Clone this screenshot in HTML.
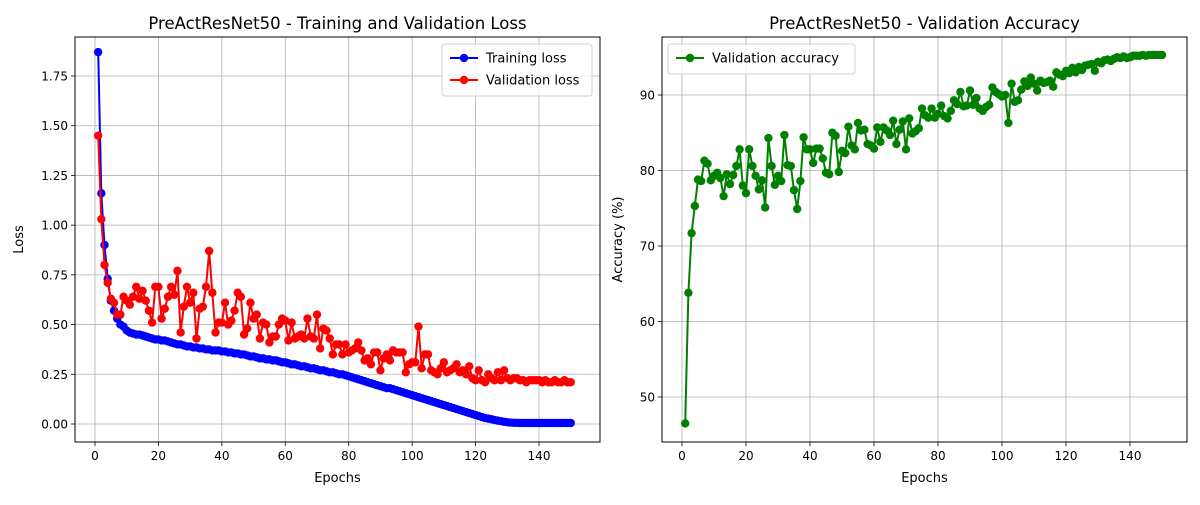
<!DOCTYPE html>
<html><head><meta charset="utf-8"><style>
body{margin:0;background:#fff;font-family:"Liberation Sans","DejaVu Sans",sans-serif}
svg text{font-family:"DejaVu Sans","Liberation Sans",sans-serif;fill:#000}
</style></head><body>
<svg id="c" width="1200" height="500"></svg>
<script>
const epochs=[];for(let i=1;i<=150;i++)epochs.push(i);
const trainLoss=[1.87,1.16,0.90,0.73,0.62,0.57,0.53,0.50,0.49,0.47,
0.46,0.455,0.45,0.45,0.445,0.44,0.435,0.43,0.425,0.425,
0.42,0.42,0.415,0.41,0.405,0.40,0.40,0.395,0.39,0.39,
0.385,0.385,0.38,0.38,0.375,0.375,0.37,0.37,0.37,0.365,
0.365,0.36,0.36,0.355,0.355,0.35,0.35,0.345,0.34,0.34,
0.335,0.33,0.33,0.325,0.325,0.32,0.32,0.315,0.31,0.31,
0.305,0.30,0.30,0.295,0.29,0.29,0.285,0.28,0.28,0.275,
0.27,0.27,0.265,0.26,0.26,0.255,0.25,0.25,0.245,0.24,
0.235,0.23,0.225,0.22,0.215,0.21,0.205,0.20,0.195,0.19,
0.185,0.18,0.18,0.175,0.17,0.165,0.16,0.155,0.15,0.145,
0.14,0.135,0.13,0.125,0.12,0.115,0.11,0.105,0.10,0.095,
0.09,0.085,0.08,0.075,0.07,0.065,0.06,0.055,0.05,0.045,
0.04,0.035,0.03,0.027,0.024,0.02,0.017,0.014,0.011,0.009,
0.007,0.006,0.006,0.005,0.005,0.005,0.005,0.005,0.005,0.005,
0.005,0.005,0.005,0.005,0.005,0.005,0.005,0.005,0.005,0.005];
const valLoss=[1.45,1.03,0.80,0.71,0.63,0.61,0.55,0.55,0.64,0.62,
0.60,0.64,0.69,0.63,0.67,0.62,0.57,0.51,0.69,0.69,
0.53,0.58,0.64,0.69,0.65,0.77,0.46,0.59,0.69,0.61,
0.66,0.43,0.58,0.59,0.69,0.87,0.66,0.46,0.51,0.51,
0.61,0.50,0.52,0.57,0.66,0.64,0.45,0.48,0.61,0.53,
0.55,0.43,0.51,0.50,0.41,0.44,0.44,0.50,0.53,0.52,
0.42,0.51,0.43,0.44,0.45,0.43,0.53,0.44,0.43,0.55,
0.38,0.48,0.47,0.43,0.35,0.40,0.40,0.35,0.40,0.36,
0.37,0.38,0.41,0.37,0.32,0.33,0.30,0.36,0.36,0.27,
0.33,0.35,0.32,0.37,0.36,0.36,0.36,0.26,0.30,0.31,
0.31,0.49,0.28,0.35,0.35,0.27,0.26,0.25,0.28,0.31,
0.26,0.27,0.28,0.30,0.26,0.27,0.25,0.29,0.23,0.22,
0.27,0.22,0.21,0.25,0.23,0.22,0.26,0.22,0.27,0.23,
0.22,0.23,0.23,0.22,0.22,0.21,0.22,0.22,0.22,0.22,
0.21,0.22,0.21,0.21,0.22,0.21,0.21,0.22,0.21,0.21];
const valAcc=[46.5,63.8,71.7,75.3,78.8,78.6,81.3,80.9,78.7,79.3,
79.7,79.0,76.6,79.5,78.2,79.4,80.6,82.8,78.0,77.0,
82.8,80.6,79.3,77.5,78.7,75.1,84.3,80.6,78.1,79.3,
78.6,84.7,80.7,80.6,77.4,74.9,78.6,84.4,82.8,82.8,
81.0,82.9,82.9,81.6,79.7,79.5,85.0,84.6,79.8,82.6,
82.3,85.8,83.3,82.8,86.3,85.3,85.4,83.5,83.3,82.9,
85.7,83.8,85.7,85.3,84.7,86.6,83.5,85.4,86.5,82.8,
86.9,84.9,85.2,85.6,88.2,87.3,87.0,88.2,87.0,87.5,
88.6,87.2,86.9,87.9,89.3,88.8,90.4,88.5,88.6,90.6,
88.7,89.6,88.2,87.9,88.4,88.7,91.0,90.4,90.1,89.8,
90.0,86.3,91.5,89.1,89.3,90.7,91.8,91.2,92.3,91.5,
90.6,91.9,91.6,91.7,91.9,91.1,93.0,92.7,92.5,93.2,
92.9,93.6,93.0,93.7,93.3,93.9,94.0,94.1,93.2,94.4,
94.2,94.6,94.7,94.5,94.8,95.0,94.9,95.1,94.9,95.0,
95.2,95.2,95.2,95.3,95.2,95.3,95.3,95.3,95.3,95.3];
const xTicks=[0,20,40,60,80,100,120,140];
const lossTicks=[0,0.25,0.5,0.75,1.0,1.25,1.5,1.75];
const accTicks=[50,60,70,80,90];

const NS='http://www.w3.org/2000/svg';
const svg=document.getElementById('c');
function el(tag,attrs,parent,name,inter){const e=document.createElementNS(NS,tag);for(const k in attrs)e.setAttribute(k,attrs[k]);


(parent||svg).appendChild(e);return e;}

function panel(o){
  const g=el('g',{},svg,o.name,false);
  const sx=v=>o.x0+(v-o.xmin)*o.xs, sy=v=>o.y0-(v-o.ymin)*o.ys;
  o.xticks.forEach(t=>{const x=sx(t);
    el('line',{x1:x,x2:x,y1:o.top,y2:o.bot,stroke:'#b0b0b0','stroke-width':0.8},g,'x-gridline',false);
    el('line',{x1:x,x2:x,y1:o.bot,y2:o.bot+4,stroke:'#000','stroke-width':0.8},g,'x-tick',false);
    const t2=el('text',{x:x,y:o.bot+18,'text-anchor':'middle','font-size':12},g,'x-tick-label',false);t2.textContent=t;});
  o.yticks.forEach(t=>{const y=sy(t);
    el('line',{x1:o.left,x2:o.right,y1:y,y2:y,stroke:'#b0b0b0','stroke-width':0.8},g,'y-gridline',false);
    el('line',{x1:o.left-4,x2:o.left,y1:y,y2:y,stroke:'#000','stroke-width':0.8},g,'y-tick',false);
    const t2=el('text',{x:o.left-7,y:y+4.5,'text-anchor':'end','font-size':12},g,'y-tick-label',false);t2.textContent=o.fmt(t);});
  o.series.forEach(s=>{
    const pts=s.vals.map((v,i)=>sx(epochs[i]).toFixed(1)+','+sy(v).toFixed(1)).join(' ');
    el('polyline',{points:pts,fill:'none',stroke:s.color,'stroke-width':2},g,s.name+'-line',false);
    s.vals.forEach((v,i)=>el('circle',{cx:sx(epochs[i]),cy:sy(v),r:4.2,fill:s.color},g,s.name+'-point',false));
  });
  el('rect',{x:o.left,y:o.top,width:o.right-o.left,height:o.bot-o.top,fill:'none',stroke:'#000','stroke-width':1},g,'axes-frame',false);
  let t=el('text',{x:(o.left+o.right)/2,y:29,'text-anchor':'middle','font-size':16.5},g,'chart-title',false);t.textContent=o.title;
  t=el('text',{x:(o.left+o.right)/2,y:482,'text-anchor':'middle','font-size':13},g,'x-axis-title',false);t.textContent='Epochs';
  t=el('text',{x:0,y:0,'text-anchor':'middle','font-size':13,transform:`translate(${o.left-o.ylOff},${(o.top+o.bot)/2}) rotate(-90)`},g,'y-axis-title',false);t.textContent=o.ylabel;
  const lg=el('g',{},g,'legend',false);
  const L=o.legend;
  el('rect',{x:L.x,y:L.y,width:L.w,height:8+o.series.length*22,rx:3,fill:'#fff','fill-opacity':0.8,stroke:'#d0d0d0'},lg,'legend-box',false);
  o.series.forEach((s,i)=>{const yy=L.y+14+i*22;
    el('line',{x1:L.x+8,x2:L.x+36,y1:yy,y2:yy,stroke:s.color,'stroke-width':2},lg,'legend-line',false);
    el('circle',{cx:L.x+22,cy:yy,r:4.2,fill:s.color},lg,'legend-marker',false);
    const tt=el('text',{x:L.x+44,y:yy+4.5,'font-size':13},lg,'legend-entry',false);tt.textContent=s.label;});
}
panel({name:'loss-panel',left:75,right:600,top:37,bot:442,x0:95,xmin:0,xs:444/140,y0:424,ymin:0,ys:348/1.75,ylOff:52,
  xticks:xTicks,yticks:lossTicks,fmt:v=>v.toFixed(2),title:'PreActResNet50 - Training and Validation Loss',ylabel:'Loss',
  legend:{x:442,y:44,w:150},
  series:[{name:'training-loss',vals:trainLoss,color:'#0000ff',label:'Training loss'},{name:'validation-loss',vals:valLoss,color:'#ff0000',label:'Validation loss'}]});
panel({name:'accuracy-panel',left:662,right:1187,top:37,bot:442,x0:682,xmin:0,xs:3.2,y0:397,ymin:50,ys:7.55,ylOff:40,
  xticks:xTicks,yticks:accTicks,fmt:v=>String(v),title:'PreActResNet50 - Validation Accuracy',ylabel:'Accuracy (%)',
  legend:{x:668,y:44,w:187},
  series:[{name:'validation-accuracy',vals:valAcc,color:'#008000',label:'Validation accuracy'}]});
</script>
</body></html>
